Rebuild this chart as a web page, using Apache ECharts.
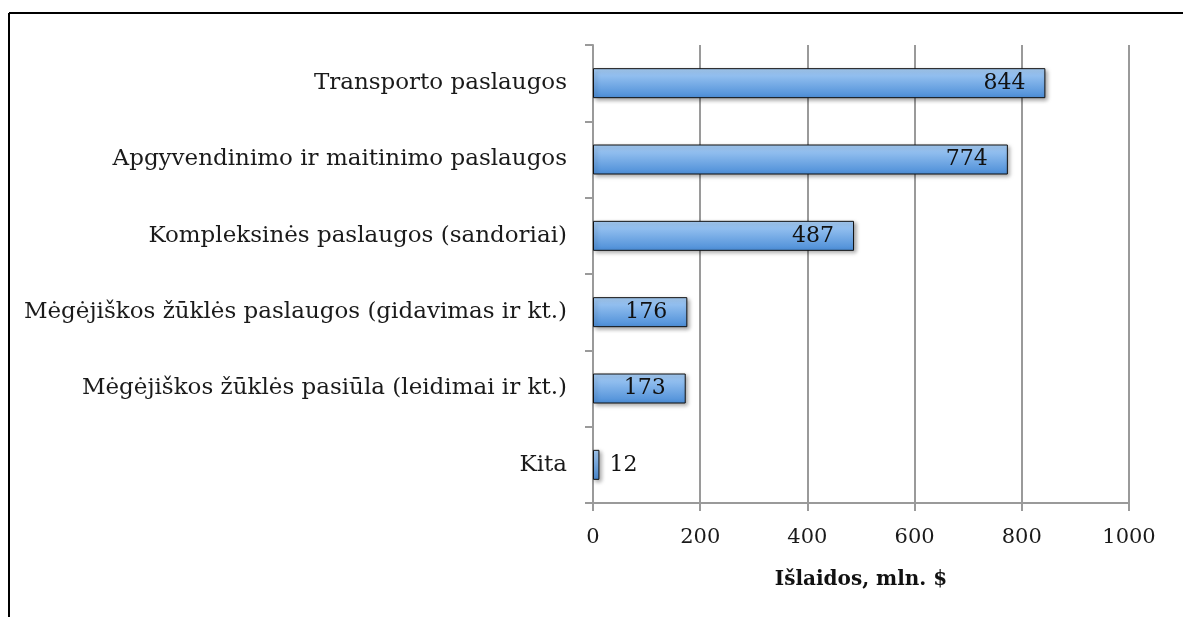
<!DOCTYPE html>
<html>
<head>
<meta charset="utf-8">
<script src="https://cdn.jsdelivr.net/npm/echarts@6/dist/echarts.min.js"></script>
<style>
  html, body { margin: 0; padding: 0; background: #fff; }
  #chart { width: 1183px; height: 617px; }
</style>
</head>
<body>
<div id="chart"></div>
<script>
var categories = [
    'Transporto paslaugos',
    'Apgyvendinimo ir maitinimo paslaugos',
    'Kompleksinės paslaugos (sandoriai)',
    'Mėgėjiškos žūklės paslaugos (gidavimas ir kt.)',
    'Mėgėjiškos žūklės pasiūla (leidimai ir kt.)',
    'Kita'
];
var values = [844, 774, 487, 176, 173, 12];
var axisTitle = 'Išlaidos, mln. $';

var myChart = echarts.init(document.getElementById('chart'));
var font = 'DejaVu Serif';
var grey = '#9a9a9a';

var barData = values.map(function(v) {
    return {
        value: v,
        label: v < 50 ? { position: 'right', distance: 10 } : { position: 'insideRight', distance: 20 }
    };
});

var option = {
    animation: false,
    grid: { left: 593, right: 54, top: 45, bottom: 114 },
    graphic: [
        { type: 'line', shape: { x1: 9, y1: 13, x2: 1183, y2: 13 }, style: { stroke: '#000', lineWidth: 2 } },
        { type: 'line', shape: { x1: 9, y1: 13, x2: 9, y2: 617 }, style: { stroke: '#000', lineWidth: 2 } }
    ],
    xAxis: {
        type: 'value',
        min: 0, max: 1000, interval: 200,
        name: axisTitle,
        nameLocation: 'middle',
        nameGap: 67,
        nameTextStyle: { fontFamily: font, fontWeight: 'bold', fontSize: 20, color: '#111' },
        axisLine: { show: true, lineStyle: { color: grey, width: 2 } },
        axisTick: { show: true, length: 8, lineStyle: { color: grey, width: 2 } },
        axisLabel: {
            fontFamily: font, fontSize: 21, color: '#1a1a1a', margin: 24,
            formatter: function(v) { return String(v); }
        },
        splitLine: { show: true, lineStyle: { color: grey, width: 2 } }
    },
    yAxis: {
        type: 'category',
        data: categories,
        inverse: true,
        axisLine: { show: true, lineStyle: { color: grey, width: 2 } },
        axisTick: { show: true, length: 8, lineStyle: { color: grey, width: 2 } },
        axisLabel: { fontFamily: font, fontSize: 23, color: '#1a1a1a', margin: 26 }
    },
    series: [{
        type: 'bar',
        data: barData,
        barWidth: 30,
        itemStyle: {
            color: new echarts.graphic.LinearGradient(0, 0, 0, 1, [
                { offset: 0, color: '#a9cff7' },
                { offset: 1, color: '#4b8dd7' }
            ]),
            borderColor: '#111',
            borderWidth: 1,
            shadowBlur: 4,
            shadowOffsetX: 2,
            shadowOffsetY: 2,
            shadowColor: 'rgba(0,0,0,0.35)'
        },
        label: {
            show: true,
            fontFamily: font,
            fontSize: 22,
            color: '#111'
        }
    }]
};

myChart.setOption(option);
</script>
</body>
</html>
